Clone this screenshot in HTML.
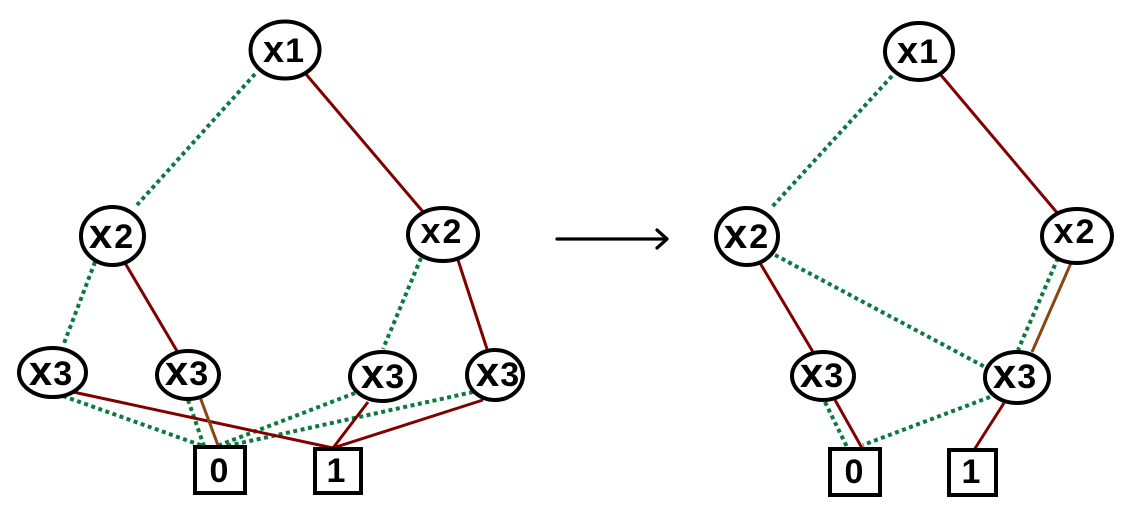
<!DOCTYPE html>
<html>
<head>
<meta charset="utf-8">
<style>
  html,body{margin:0;padding:0;background:#fff;}
  body{width:1131px;height:526px;overflow:hidden;}
  svg{display:block;}
  text{font-family:"Liberation Sans",sans-serif;font-size:34px;font-weight:bold;fill:#000;}
</style>
</head>
<body>
<svg width="1131" height="526" viewBox="0 0 1131 526" xmlns="http://www.w3.org/2000/svg">
  <g fill="none" stroke-linecap="butt">
    <!-- LEFT TREE EDGES -->
    <g stroke="#0a7a40" stroke-width="4" stroke-dasharray="4 3.5">
      <line x1="255" y1="74" x2="137" y2="205"/>
      <line x1="95" y1="262" x2="63" y2="346"/>
      <line x1="421" y1="258" x2="383" y2="349"/>
      <line x1="63" y1="396" x2="203" y2="446"/>
      <line x1="188" y1="400" x2="204" y2="446"/>
      <line x1="355" y1="393" x2="217" y2="446"/>
      <line x1="473" y1="392" x2="227" y2="446"/>
    </g>
    <g stroke="#800000" stroke-width="3">
      <line x1="305" y1="73" x2="424" y2="213"/>
      <line x1="125" y1="263" x2="177" y2="351"/>
      <line x1="458" y1="260" x2="487" y2="349"/>
      <line x1="73" y1="392" x2="333" y2="448"/>
      <line x1="368" y1="402" x2="333" y2="448"/>
      <line x1="483" y1="400" x2="333" y2="448"/>
    </g>
    <line x1="200" y1="397" x2="219" y2="448" stroke="#8b4513" stroke-width="3"/>

    <!-- RIGHT TREE EDGES -->
    <g stroke="#0a7a40" stroke-width="4" stroke-dasharray="4 3.5">
      <line x1="892" y1="76" x2="772" y2="207"/>
      <line x1="775" y1="255" x2="987" y2="368"/>
      <line x1="1058" y1="258" x2="1018" y2="350"/>
      <line x1="825" y1="402" x2="847" y2="447"/>
      <line x1="990" y1="397" x2="863" y2="445"/>
    </g>
    <g stroke="#800000" stroke-width="3">
      <line x1="940" y1="74" x2="1059" y2="215"/>
      <line x1="760" y1="263" x2="813" y2="352"/>
      <line x1="835" y1="400" x2="862" y2="448"/>
      <line x1="1004" y1="403" x2="974" y2="450"/>
    </g>
    <line x1="1071" y1="263" x2="1032" y2="352" stroke="#8b4513" stroke-width="3"/>

    <!-- ARROW -->
    <g stroke="#000" stroke-width="3.2" stroke-linecap="round" stroke-linejoin="round">
      <line x1="557" y1="239" x2="666" y2="239"/>
      <polyline points="657,230 667,239 657,248"/>
    </g>
  </g>

  <!-- NODES -->
  <g fill="#fff" stroke="#000" stroke-width="4">
    <!-- left -->
    <ellipse cx="285" cy="50" rx="34.5" ry="28.5"/>
    <ellipse cx="112.5" cy="236" rx="31.5" ry="29"/>
    <ellipse cx="443" cy="234.5" rx="35" ry="26.5"/>
    <ellipse cx="52.5" cy="372.5" rx="33.5" ry="24.5"/>
    <ellipse cx="188" cy="375" rx="31" ry="24"/>
    <ellipse cx="382.5" cy="376.5" rx="32.5" ry="24.5"/>
    <ellipse cx="495" cy="375" rx="28" ry="25"/>
    <rect x="195" y="447" width="50" height="46"/>
    <rect x="315" y="449" width="46" height="44"/>
    <!-- right -->
    <ellipse cx="919" cy="51.5" rx="34" ry="28.5"/>
    <ellipse cx="747" cy="236.5" rx="31" ry="28.5"/>
    <ellipse cx="1077" cy="236" rx="35" ry="27"/>
    <ellipse cx="823" cy="376" rx="31" ry="24"/>
    <ellipse cx="1017" cy="377.5" rx="32" ry="25.5"/>
    <rect x="830" y="449" width="50" height="46"/>
    <rect x="949" y="450" width="47" height="45"/>
  </g>

  <!-- LABELS -->
  <g text-anchor="middle">
    <text x="284" y="62" letter-spacing="1"><tspan font-size="38">x</tspan>1</text>
    <text x="112" y="248" letter-spacing="2"><tspan font-size="42">x</tspan>2</text>
    <text x="442" y="243" letter-spacing="2"><tspan font-size="36">x</tspan>2</text>
    <text x="51" y="385" letter-spacing="1"><tspan font-size="42">x</tspan>3</text>
    <text x="187" y="385" letter-spacing="1"><tspan font-size="42">x</tspan>3</text>
    <text x="383" y="388" letter-spacing="1"><tspan font-size="42">x</tspan>3</text>
    <text x="498" y="386" letter-spacing="1"><tspan font-size="42">x</tspan>3</text>
    <text x="219" y="482">0</text>
    <text x="336" y="482">1</text>

    <text x="918" y="63" letter-spacing="1"><tspan font-size="38">x</tspan>1</text>
    <text x="747" y="248" letter-spacing="2"><tspan font-size="42">x</tspan>2</text>
    <text x="1075" y="243" letter-spacing="2"><tspan font-size="36">x</tspan>2</text>
    <text x="822" y="387" letter-spacing="1"><tspan font-size="42">x</tspan>3</text>
    <text x="1015" y="388" letter-spacing="1"><tspan font-size="42">x</tspan>3</text>
    <text x="854" y="483">0</text>
    <text x="971" y="483">1</text>
  </g>
</svg>
</body>
</html>
